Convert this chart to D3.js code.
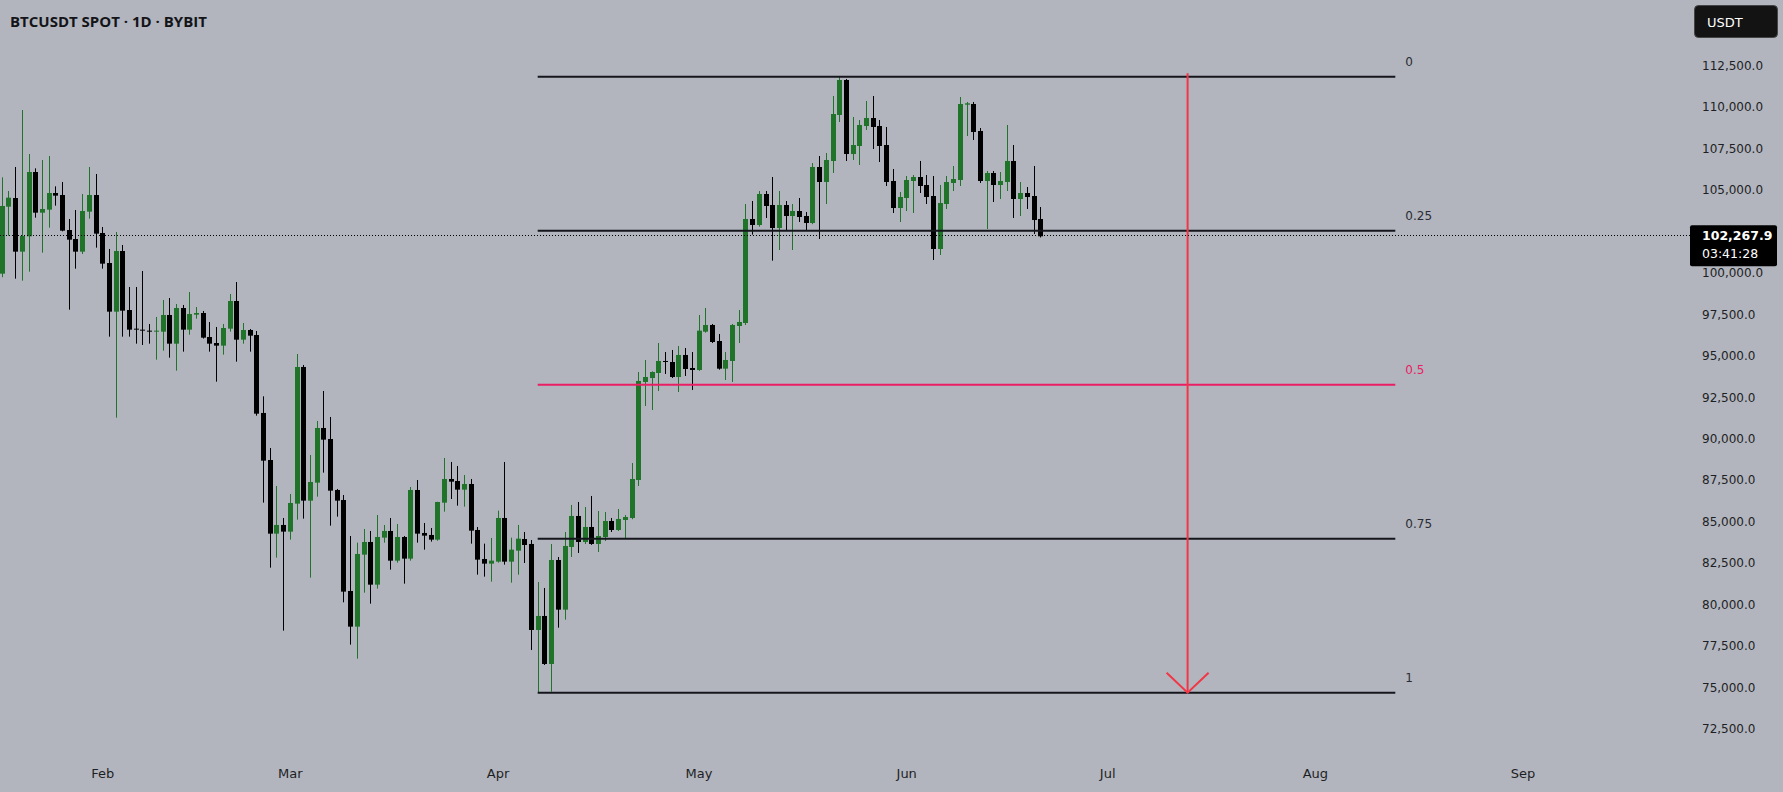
<!DOCTYPE html>
<html>
<head>
<meta charset="utf-8">
<script src="https://cdn.jsdelivr.net/npm/d3@7"></script>
<style>
  html, body { margin: 0; padding: 0; background: #b2b5be; overflow: hidden; }
  svg { display: block; font-family: "DejaVu Sans", sans-serif; }
</style>
</head>
<body>
<svg id="chart"></svg>
<script>
// Daily candles, first one is 17 Jan 2025
const firstDay = "2025-01-17";

const opens = [100013,104055,104578,101341,102266,106147,103693,103875,104880,104759,102648,102105,101341,103754,104759,102467,100657,97721,101381,97821,
  96695,96635,96575,96514,96514,97520,95790,97942,96635,97540,97640,96192,95830,95670,96695,98364,96031,96615,96313,91608,
  88772,84328,84851,84449,86138,94383,86319,87405,90703,90039,86962,86359,80869,78717,83061,83825,81251,84087,84489,82699,
  84127,82820,86962,84368,84248,83966,86198,87626,87505,86982,87324,84549,82800,82518,82639,85273,82639,83302,84006,83705,
  78516,79361,76465,82739,79743,83524,85394,83825,84730,83705,84127,85092,84549,85153,85273,87566,93478,93719,94021,94745,
  94685,93780,95107,94323,94202,96514,96917,95951,94282,94745,96857,97037,103312,102950,104820,104156,102769,104156,103492,103794,
  103492,103070,106449,105544,106811,109586,111697,107232,107716,108922,109405,108922,107776,105604,103975,104579,105604,105845,105363,104699,
  101502,104216,105483,105664,110209,110250,108621,105604,106087,105363,105544,106811,104518,104880,104699,103312];
const highs = [105825,105001,106449,109887,107233,106368,106871,107112,105282,105544,103311,103854,104820,106449,106027,102829,101502,102527,101743,99209,
  99209,100174,96977,97399,98425,98545,98183,98123,98907,98002,97761,97097,96796,96977,98787,99510,97037,96675,96555,92613,
  89496,87204,85273,86721,95167,94504,89074,91125,92935,91366,87023,86661,84187,83785,84609,84489,85454,84851,85273,84911,
  84187,87144,87565,84972,84670,86250,88893,88652,88410,87867,87626,84730,83725,84067,85716,88652,84087,84851,84429,83946,
  81412,81050,83705,82920,84429,86058,86239,85937,86601,85696,85635,85273,85816,85454,88591,94081,94805,94120,95831,95288,
  95409,95650,95529,95288,97520,97942,96977,96374,95288,96977,97822,104216,104397,105001,105001,105845,105001,104397,104216,104578,
  103734,106690,107112,107293,110732,111939,111758,109465,109284,110430,110732,109284,108862,106328,104940,105906,105966,106811,105966,105906,
  105363,105906,106509,110672,110370,110370,108802,106207,106207,106147,108982,107776,105544,105242,106509,104035];
const lows = [99800,102306,99711,99591,100134,103392,101281,102789,104116,102567,97842,100315,101200,103332,101582,100315,96213,91326,96213,96213,
  95790,95710,95790,94825,95368,94946,94162,95308,96333,97298,96100,95308,93498,95127,96514,94704,95790,95308,91446,86198,
  82277,82880,78476,83966,85173,85233,81674,86560,88008,84811,85354,80185,77631,76787,80768,80105,81010,83785,82156,82578,
  81311,82699,83785,83363,83846,83900,85655,86419,86017,85957,83725,81854,81734,81432,82578,82458,81372,81854,82558,77310,
  74736,76405,74796,78657,79140,82920,83162,83700,83650,83222,83886,84429,84489,84067,85200,87204,92030,91789,92935,93961,
  93719,92875,93840,92996,94150,96454,95831,94222,93598,93478,95831,96917,102367,102849,103372,100798,101441,102588,101441,103131,
  102648,103000,102105,104216,106087,109163,106811,106871,106569,108681,107535,106750,105303,103673,103131,103794,103673,104880,104216,100838,
  101140,103915,105001,105303,108319,108078,105483,102708,104337,104518,105001,103372,103492,103915,102406,102200];
const closes = [104096,104598,101341,102286,106147,103693,103915,104880,104719,102608,102065,101341,103794,104759,102427,100617,97721,101381,97781,96635,
  96635,96575,96514,96575,97520,95790,97942,96635,97580,97640,96152,95790,95670,96736,98364,96031,96615,96273,91567,88732,
  84328,84851,84449,86178,94383,86319,87445,90703,89999,86922,86319,80829,78717,83101,83825,81251,84127,84489,82699,84127,
  82820,86962,84328,84207,83966,86238,87626,87465,86982,87324,84509,82759,82518,82699,85273,82639,83363,84026,83644,78516,
  79361,76465,82739,79743,83584,85394,83825,84730,83705,84187,85092,84549,85213,85333,87626,93539,93780,94081,94745,94685,
  93780,95107,94262,94202,96575,96917,95891,94282,94805,96917,97098,103312,102950,104820,104096,102769,104156,103492,103794,103432,
  103070,106449,105544,106871,109646,111697,107232,107776,108983,109405,108862,107716,105544,103975,104639,105664,105845,105303,104639,101502,
  104277,105544,105725,110250,110290,108560,105604,106087,105363,105604,106811,104518,104880,104639,103251,102267.9];

// Fibonacci retracement drawn from the April low to the May high
const fibHigh = 111900, fibLow = 74730;
const fibLevels = [0, 0.25, 0.5, 0.75, 1];
const fibStart = "2025-04-07", fibEnd = "2025-08-13";

// Red arrow down to the 1 level
const arrowDay = "2025-07-13", arrowTop = 112100;

const lastPrice = 102267.9, countdown = "03:41:28";
const priceTicks = d3.range(72500, 112501, 2500);
const monthTicks = ["2025-02-01","2025-03-01","2025-04-01","2025-05-01","2025-06-01","2025-07-01","2025-08-01","2025-09-01"];

const W = 1783, H = 792;
const green = "#1f7429", black = "#000000", red = "#e91e63", arrowRed = "#f23645";

const svg = d3.select("#chart").attr("width", W).attr("height", H);

const parse = d3.utcParse("%Y-%m-%d");
const start = parse(firstDay);
const candles = opens.map((o, i) => ({
  date: d3.utcDay.offset(start, i),
  o, h: highs[i], l: lows[i], c: closes[i]
}));

// Scales
const x = d3.scaleUtc()
  .domain([start, candles[candles.length - 1].date])
  .range([1.7, 1040.2]);
const y = d3.scaleLinear().domain([72500, 112500]).range([729.7, 66.7]);

// Price axis (the tick hidden under the last price box is left out)
const shownTicks = priceTicks.filter(p => Math.abs(y(p) - y(lastPrice)) > 12);
const yAxis = svg.append("g")
  .attr("transform", "translate(1690,-1)")
  .call(d3.axisRight(y).tickValues(shownTicks).tickFormat(d3.format(",.1f")).tickSize(0).tickPadding(12));
yAxis.select(".domain").remove();
yAxis.selectAll("text").attr("fill", "#1e1f24").style("font-size", "12px").style("font-family", "DejaVu Sans");

// Time axis
const xAxis = svg.append("g")
  .attr("transform", "translate(0,769)")
  .call(d3.axisBottom(x).tickValues(monthTicks.map(parse)).tickFormat(d3.utcFormat("%b")).tickSize(0).tickPadding(0));
xAxis.select(".domain").remove();
xAxis.selectAll("text").attr("fill", "#1e1f24").style("font-size", "13px").style("font-family", "DejaVu Sans");

// Candles
const g = svg.append("g");
const cg = g.selectAll("g.candle").data(candles).enter().append("g").attr("class", "candle");
cg.append("line")
  .attr("x1", d => Math.round(x(d.date)) + 0.5)
  .attr("x2", d => Math.round(x(d.date)) + 0.5)
  .attr("y1", d => y(d.h))
  .attr("y2", d => y(d.l))
  .attr("stroke", d => d.c >= d.o ? green : black)
  .attr("stroke-width", 1);
cg.append("rect")
  .attr("x", d => Math.round(x(d.date)) - 2)
  .attr("width", 5)
  .attr("y", d => y(Math.max(d.o, d.c)))
  .attr("height", d => Math.max(1, y(Math.min(d.o, d.c)) - y(Math.max(d.o, d.c))))
  .attr("fill", d => d.c >= d.o ? green : black);

// Fib lines and labels
const fib = svg.append("g");
fibLevels.forEach(lv => {
  const p = fibHigh - lv * (fibHigh - fibLow);
  const col = lv === 0.5 ? red : "#15161c";
  fib.append("line")
    .attr("x1", x(parse(fibStart))).attr("x2", x(parse(fibEnd)))
    .attr("y1", y(p)).attr("y2", y(p))
    .attr("stroke", col).attr("stroke-width", 2);
  fib.append("text")
    .attr("x", x(parse(fibEnd)) + 10).attr("y", y(p) - 11)
    .attr("fill", lv === 0.5 ? red : "#2a2c33")
    .style("font-size", "12px")
    .text(lv);
});

// Arrow
const ax = x(parse(arrowDay));
svg.append("line")
  .attr("x1", ax).attr("x2", ax)
  .attr("y1", y(arrowTop)).attr("y2", y(fibLow))
  .attr("stroke", arrowRed).attr("stroke-width", 2);
svg.append("path")
  .attr("d", `M${ax - 21},${y(fibLow) - 20}L${ax},${y(fibLow)}L${ax + 21},${y(fibLow) - 20}`)
  .attr("fill", "none").attr("stroke", arrowRed).attr("stroke-width", 2);

// Last price dotted line
const py = y(lastPrice);
svg.append("line")
  .attr("x1", 0).attr("x2", 1690)
  .attr("y1", Math.round(py) - 0.5).attr("y2", Math.round(py) - 0.5)
  .attr("stroke", "#000").attr("stroke-dasharray", "1,2");

// Last price box
svg.append("rect")
  .attr("x", 1690).attr("y", py - 11).attr("width", 87).attr("height", 41)
  .attr("rx", 2).attr("fill", "#000");
svg.append("text")
  .attr("x", 1702).attr("y", py - 0.5).attr("dy", "0.35em")
  .attr("fill", "#fff").style("font-size", "12.5px").style("font-weight", "bold")
  .text(d3.format(",.1f")(lastPrice));
svg.append("text")
  .attr("x", 1702).attr("y", py + 17).attr("dy", "0.35em")
  .attr("fill", "#fff").style("font-size", "12.5px")
  .text(countdown);

// Currency button
svg.append("rect")
  .attr("x", 1694.5).attr("y", 5.5).attr("width", 83).attr("height", 32).attr("rx", 4)
  .attr("fill", "#131313").attr("stroke", "#444");
svg.append("text")
  .attr("x", 1707).attr("y", 22).attr("dy", "0.35em")
  .attr("fill", "#fff").style("font-size", "13px")
  .text("USDT");

// Title
svg.append("text")
  .attr("x", 10).attr("y", 21.5).attr("dy", "0.35em")
  .attr("fill", "#131418")
  .style("font-family", "Open Sans").style("font-weight", "bold").style("font-size", "15px")
  .text("BTCUSDT SPOT · 1D · BYBIT");
</script>
</body>
</html>
